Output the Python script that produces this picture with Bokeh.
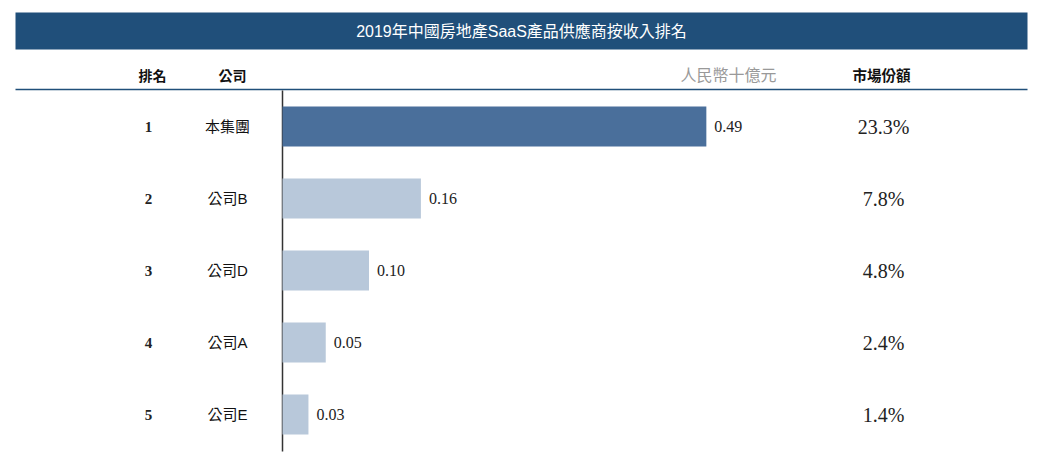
from bokeh.plotting import figure
from bokeh.models import Range1d, ColumnDataSource
from bokeh.core.properties import value
from bokeh.embed import file_html
from bokeh.resources import INLINE

# ---- data ----
title = "2019年中國房地產SaaS產品供應商按收入排名"
ranks = [1, 2, 3, 4, 5]
rank_labels = ["1", "2", "3", "4", "5"]
companies = ["本集團", "公司B", "公司D", "公司A", "公司E"]
revenue = [0.49, 0.16, 0.10, 0.05, 0.03]
revenue_labels = ["0.49", "0.16", "0.10", "0.05", "0.03"]
share_labels = ["23.3%", "7.8%", "4.8%", "2.4%", "1.4%"]
headers = ["排名", "公司", "人民幣十億元", "市場份額"]

# ---- layout helpers (pixel -> data) ----
W, H = 1030, 460
X0, SX = 282, 865.0     # px of value 0, px per unit
ROW0, ROWH = 126, 72.0  # px of first row center, row spacing


def X(px):
    return (px - X0) / SX


def Y(py):
    return 1 + (py - ROW0) / ROWH


p = figure(width=W, height=H, output_backend="svg", toolbar_location=None,
           x_range=Range1d(-X0 / SX, (W - X0) / SX),
           y_range=Range1d(1 + (H - ROW0) / ROWH, 1 - ROW0 / ROWH),
           min_border=0, x_axis_location=None, y_axis_location=None)
p.xgrid.visible = False
p.ygrid.visible = False
p.outline_line_color = None
p.background_fill_color = "white"

CJK = "Liberation Sans, Noto Sans CJK TC"
SERIF = "Liberation Serif"

# title bar
p.quad(left=X(15), right=X(1027), top=Y(12), bottom=Y(49),
       fill_color="#204f7a", line_color=None)
p.text(x=[X(521)], y=[Y(31)], text=[title], text_color="white",
       text_font=value(CJK), text_font_size="16px",
       text_align="center", text_baseline="middle")

# header
hx = [X(152), X(232), X(728), X(881)]
hcol = ["#111111", "#111111", "#999999", "#111111"]
hst = ["bold", "bold", "normal", "bold"]
hsz = ["14px", "14px", "16px", "14.5px"]
src_h = ColumnDataSource(dict(x=hx, y=[Y(75)] * 4, t=headers, c=hcol, s=hst, z=hsz))
p.text(x="x", y="y", text="t", text_color="c", text_font_style="s", source=src_h,
       text_font=value(CJK), text_font_size="z",
       text_align="center", text_baseline="middle")
p.segment(x0=[X(15)], x1=[X(1027)], y0=[Y(89)], y1=[Y(89)],
          line_color="#204f7a", line_width=1.5)

# axis line
p.segment(x0=[0], x1=[0], y0=[Y(90)], y1=[Y(451)],
          line_color="#333333", line_width=1.5)

colors = ["#4a6f9b"] + ["#b8c8da"] * 4
src = ColumnDataSource(dict(y=ranks, v=revenue, vl=revenue_labels, c=colors,
                            rl=rank_labels, co=companies, sl=share_labels))
p.hbar(y="y", left=0, right="v", height=40 / ROWH, fill_color="c",
       line_color=None, source=src)
p.text(x="v", y="y", text="vl", x_offset=8, source=src,
       text_font=value(SERIF), text_font_size="16px", text_color="#222222",
       text_align="left", text_baseline="middle")
p.text(x=X(148), y="y", text="rl", source=src, text_font_style="bold",
       text_font=value(SERIF), text_font_size="15px", text_color="#222222",
       text_align="center", text_baseline="middle")
p.text(x=X(227), y="y", text="co", source=src,
       text_font=value(CJK), text_font_size="15px", text_color="#111111",
       text_align="center", text_baseline="middle")
p.text(x=X(883), y="y", text="sl", source=src,
       text_font=value(SERIF), text_font_size="20px", text_color="#222222",
       text_align="center", text_baseline="middle")

open("out.html", "w").write(file_html(p, INLINE))
